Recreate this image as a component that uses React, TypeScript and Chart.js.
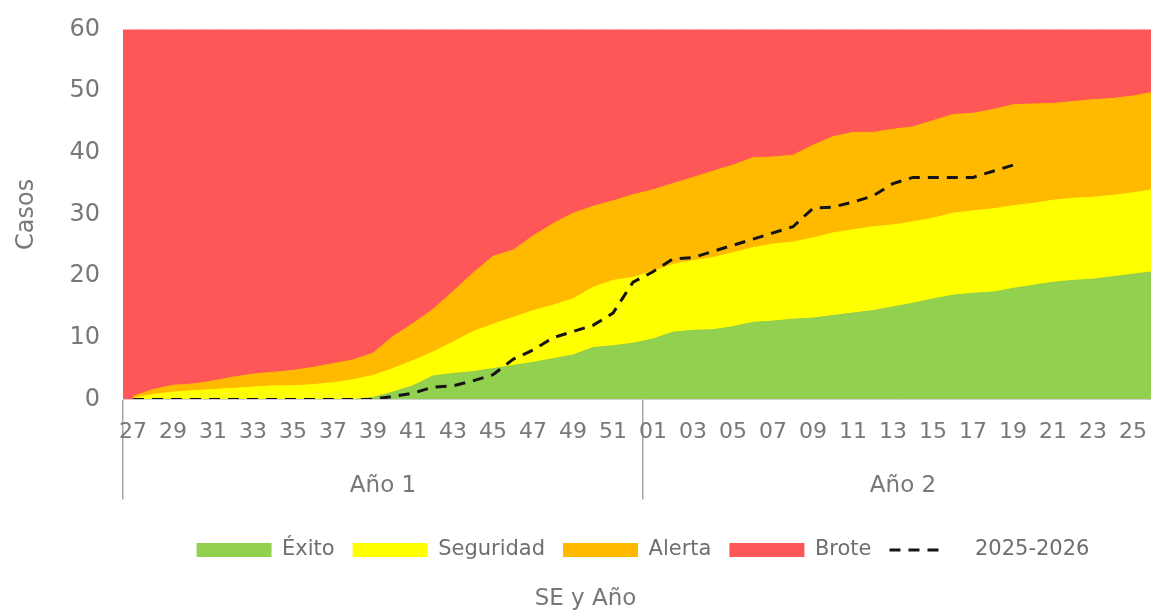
import React, { useEffect, useRef } from 'react';
import { Chart, registerables } from 'chart.js';

Chart.register(...registerables);

// Epidemiological weeks (SE): weeks 27-52 of year 1, then 01-26 of year 2
const weeks = [
  '27', '28', '29', '30', '31', '32', '33', '34', '35', '36', '37', '38', '39',
  '40', '41', '42', '43', '44', '45', '46', '47', '48', '49', '50', '51', '52',
  '01', '02', '03', '04', '05', '06', '07', '08', '09', '10', '11', '12', '13',
  '14', '15', '16', '17', '18', '19', '20', '21', '22', '23', '24', '25', '26',
];

const yearLabels = ['Año 1', 'Año 2'];

// Upper limit of each zone (cumulative thresholds)
const exitoTop = [
  0, 0, 0, 0, 0, 0, 0, 0, 0, 0, 0, 0, 0.3,
  1.2, 2.2, 3.8, 4.2, 4.5, 5, 5.5, 6, 6.6, 7.2, 8.4, 8.7, 9.1,
  9.8, 10.9, 11.2, 11.3, 11.8, 12.5, 12.7, 13, 13.2, 13.6, 14, 14.4, 15,
  15.6, 16.3, 16.9, 17.2, 17.4, 18, 18.5, 19, 19.3, 19.5, 19.9, 20.3, 20.7,
];

const seguridadTop = [
  0.2, 0.8, 1.2, 1.4, 1.6, 1.8, 2, 2.2, 2.2, 2.4, 2.7, 3.2, 3.9,
  5, 6.3, 7.7, 9.3, 11, 12.2, 13.3, 14.4, 15.3, 16.3, 18.2, 19.3, 19.8,
  20.8, 21.9, 22.5, 23, 23.8, 24.6, 25.2, 25.5, 26.2, 27, 27.5, 28, 28.3,
  28.8, 29.4, 30.2, 30.6, 30.9, 31.4, 31.8, 32.3, 32.6, 32.8, 33.1, 33.5, 34,
];

const alertaTop = [
  0.5, 1.6, 2.3, 2.5, 3, 3.6, 4.1, 4.4, 4.7, 5.2, 5.8, 6.4, 7.5,
  10.2, 12.3, 14.6, 17.5, 20.5, 23.2, 24.2, 26.5, 28.5, 30.2, 31.3, 32.2, 33.2,
  34, 35, 36, 37, 38, 39.2, 39.3, 39.6, 41.2, 42.6, 43.3, 43.3, 43.8,
  44.2, 45.2, 46.2, 46.4, 47, 47.8, 47.9, 48, 48.3, 48.6, 48.8, 49.2, 49.8,
];

const broteTop = [
  60, 60, 60, 60, 60, 60, 60, 60, 60, 60, 60, 60, 60,
  60, 60, 60, 60, 60, 60, 60, 60, 60, 60, 60, 60, 60,
  60, 60, 60, 60, 60, 60, 60, 60, 60, 60, 60, 60, 60,
  60, 60, 60, 60, 60, 60, 60, 60, 60, 60, 60, 60, 60,
];

const casos2025 = [
  0, 0, 0, 0, 0, 0, 0, 0, 0, 0, 0, 0, 0,
  0.5, 1, 2, 2.2, 3, 4, 6.5, 8, 10, 11, 12, 14, 19,
  20.7, 22.8, 23, 24, 25, 26, 27, 28, 31, 31.2, 32, 33, 35,
  36, 36, 36, 36, 37, 38, null, null, null, null, null, null, null,
];

const FONT = '"DejaVu Sans", sans-serif';
const TEXT = '#787878';

export default function App() {
  const ref = useRef<HTMLCanvasElement>(null);

  useEffect(() => {
    if (!ref.current) return;
    const chart = new Chart(ref.current, {
      type: 'line',
      data: {
        labels: weeks,
        datasets: [
          {
            label: 'Éxito', data: exitoTop, backgroundColor: '#92D050', borderColor: '#92D050',
            borderWidth: 1, pointRadius: 0, fill: 'origin', order: 3, tension: 0,
          },
          {
            label: 'Seguridad', data: seguridadTop, backgroundColor: '#FFFF00', borderColor: '#FFFF00',
            borderWidth: 1, pointRadius: 0, fill: '-1', order: 3, tension: 0,
          },
          {
            label: 'Alerta', data: alertaTop, backgroundColor: '#FFBA00', borderColor: '#FFBA00',
            borderWidth: 1, pointRadius: 0, fill: '-1', order: 3, tension: 0,
          },
          {
            type: 'bar', label: 'Brote', data: broteTop, backgroundColor: '#FF5757',
            borderWidth: 0, barPercentage: 1, categoryPercentage: 1, order: 10,
          } as any,
          {
            label: '2025-2026', data: casos2025, borderColor: '#141414', backgroundColor: '#141414',
            borderWidth: 3, borderDash: [11, 8], pointRadius: 0, fill: false, order: 0, tension: 0,
            spanGaps: false,
          },
        ],
      },
      options: {
        responsive: false,
        animation: false,
        events: [],
        layout: { padding: { left: 8, top: 19, right: 79, bottom: 0 } },
        scales: {
          x: {
            type: 'category',
            offset: true,
            weight: 0,
            grid: {
              display: true,
              drawOnChartArea: false,
              drawTicks: true,
              tickLength: 100,
              offset: true,
              lineWidth: 1.5,
              color: (c: any) => (c.index === 0 || c.index === 26 || c.index === 52 ? '#a8a8a8' : 'rgba(0,0,0,0)'),
            },
            border: { display: true, color: '#cfcfcf', width: 1, z: 1 },
            ticks: {
              autoSkip: false,
              maxRotation: 0,
              minRotation: 0,
              padding: -80,
              color: TEXT,
              font: { family: FONT, size: 22 },
              callback: function (this: any, value: any, index: number) {
                return index % 2 === 0 ? this.getLabelForValue(value) : '';
              },
            },
            afterFit: (s: any) => { s.height = 50; },
          },
          x2: {
            type: 'category',
            labels: yearLabels,
            position: 'bottom',
            offset: true,
            weight: 1,
            grid: { display: false },
            border: { display: false },
            ticks: { color: TEXT, font: { family: FONT, size: 23 }, padding: 15, maxRotation: 0 },
            afterFit: (s: any) => { s.height = 72; },
          },
          y: {
            min: 0,
            max: 60,
            grid: { display: false },
            border: { display: false },
            ticks: { stepSize: 10, padding: 15, color: TEXT, font: { family: FONT, size: 24 } },
            title: {
              display: true, text: 'Casos', color: TEXT,
              font: { family: FONT, size: 24 }, padding: { top: 4, bottom: 4 },
            },
            afterFit: (s: any) => { s.width = 115; },
          },
        },
        plugins: {
          tooltip: { enabled: false },
          legend: {
            position: 'bottom',
            fullSize: false,
            labels: {
              usePointStyle: true,
              pointStyleWidth: 75,
              boxHeight: 14,
              padding: 18,
              color: '#6e6e6e',
              font: { family: FONT, size: 21 },
              sort: (a: any, b: any) => a.datasetIndex - b.datasetIndex,
              generateLabels: (ch: any) => {
                const items = (Chart.defaults.plugins.legend.labels as any).generateLabels(ch);
                return items.map((it: any) =>
                  it.datasetIndex === 4
                    ? { ...it, pointStyle: 'line', lineWidth: 3, strokeStyle: '#141414', lineDash: [11, 8, 11, 8, 11, 30] }
                    : { ...it, pointStyle: 'rect', lineWidth: 0 });
              },
            },
          },
          title: {
            display: true,
            text: 'SE y Año',
            position: 'bottom',
            color: TEXT,
            font: { family: FONT, size: 23, weight: 'normal' },
            padding: { top: 15, bottom: 0 },
          },
        },
      } as any,
    });
    return () => chart.destroy();
  }, []);

  return (
    <div style={{ position: 'fixed', left: 0, top: 0, width: 1151, height: 613, overflow: 'hidden', background: '#ffffff' }}>
      <canvas ref={ref} width={1242} height={613} style={{ width: 1242, height: 613, display: 'block' }} />
    </div>
  );
}
